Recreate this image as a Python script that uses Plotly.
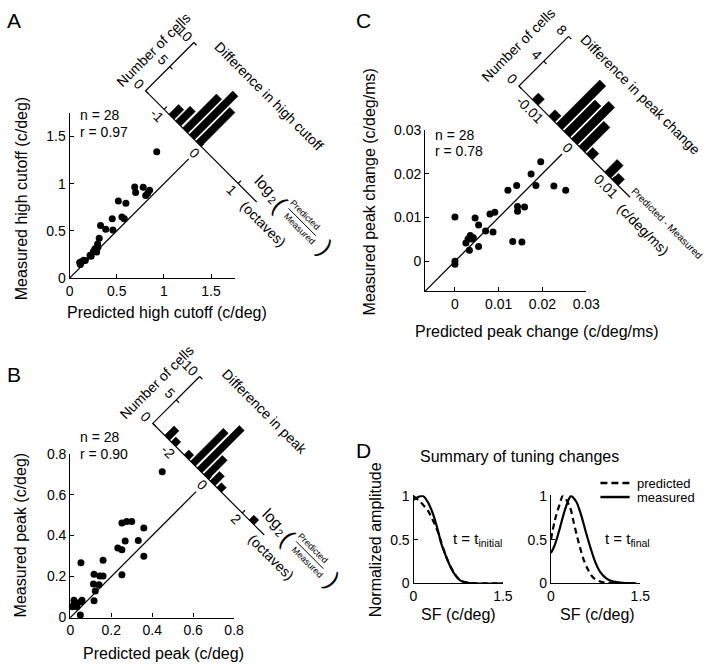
import math
import plotly.graph_objects as go

W, H = 720, 670
FONT = "Liberation Sans, Arial, Helvetica, sans-serif"
R2 = math.sqrt(2.0)

# ---------------- data ----------------
# Panel A : high cutoff (c/deg)
a_predicted = [0.924, 0.69, 0.70, 0.78, 0.848, 0.807, 0.828, 0.517, 0.597, 0.452,
               0.555, 0.58, 0.328, 0.383, 0.459, 0.314, 0.297, 0.269, 0.30, 0.252,
               0.217, 0.149, 0.124, 0.114, 0.166, 0.287, 0.107, 0.228]
a_measured = [1.338, 0.966, 0.907, 0.962, 0.931, 0.876, 0.90, 0.817, 0.793, 0.628,
              0.648, 0.628, 0.558, 0.517, 0.51, 0.421, 0.362, 0.31, 0.328, 0.283,
              0.242, 0.19, 0.173, 0.145, 0.187, 0.276, 0.166, 0.232]
a_hist_bins = [-0.80, -0.62, -0.43, -0.25, -0.07]
a_hist_counts = [2, 3, 7, 9, 7]
a_ticks = [0, 0.5, 1, 1.5]
a_ticklabels = ["0", "0.5", "1", "1.5"]
a_hist_ticks = [-1, 0, 1]
a_hist_ticklabels = ["-1", "0", "1"]
a_count_ticks = [0, 5, 10]

# Panel B : peak (c/deg)
b_predicted = [0.449, 0.252, 0.275, 0.30, 0.359, 0.232, 0.252, 0.268, 0.332, 0.359,
               0.252, 0.16, 0.052, 0.116, 0.144, 0.16, 0.113, 0.14, 0.122, 0.116,
               0.018, 0.018, 0.033, 0.052, 0.049, 0.025, 0.01, 0.057]
b_measured = [0.712, 0.461, 0.469, 0.469, 0.437, 0.339, 0.331, 0.374, 0.376, 0.299,
              0.209, 0.28, 0.268, 0.212, 0.203, 0.203, 0.164, 0.16, 0.13, 0.082,
              0.085, 0.066, 0.053, 0.077, 0.013, 0.072, 0.053, 0.085]
b_hist_bins = [-2.45, -2.07, -1.30, -0.92, -0.53, -0.15, 0.24, 0.63, 2.55]
b_hist_counts = [2, 1, 1, 7, 9, 4, 2, 1, 1]
b_ticks = [0, 0.2, 0.4, 0.6, 0.8]
b_ticklabels = ["0", "0.2", "0.4", "0.6", "0.8"]
b_hist_ticks = [-2, 0, 2]
b_hist_ticklabels = ["-2", "0", "2"]
b_count_ticks = [0, 5, 10]

# Panel C : peak change (c/deg/ms)
c_predicted = [0.0196, 0.0174, 0.0185, 0.0141, 0.0121, 0.0226, 0.0253, 0.0143, 0.0159, 0.0143,
               0.0091, 0.0080, 0.0, 0.0046, 0.0054, 0.0070, 0.0087, 0.0035, 0.0030, 0.0039,
               0.0042, 0.0025, 0.0033, 0.0054, 0.0132, 0.0153, 0.0, 0.0]
c_measured = [0.0227, 0.0199, 0.0173, 0.0173, 0.0162, 0.0172, 0.0162, 0.0125, 0.0124, 0.0114,
              0.0112, 0.0108, 0.0101, 0.0099, 0.0083, 0.0069, 0.0067, 0.0059, 0.0051, 0.0051,
              0.0054, 0.0042, 0.0025, 0.0034, 0.0045, 0.0044, 0.0, -0.0007]
c_hist_bins = [-0.0104, -0.0060, -0.0040, -0.0020, 0.0, 0.0020, 0.0040, 0.0088, 0.0108]
c_hist_counts = [1, 1, 7, 5, 6, 4, 1, 2, 1]
c_ticks = [0, 0.01, 0.02, 0.03]
c_ticklabels = ["0", "0.01", "0.02", "0.03"]
c_hist_ticks = [-0.01, 0, 0.01]
c_hist_ticklabels = ["-0.01", "0", "0.01"]
c_count_ticks = [0, 4, 8]

# Panel D : summary tuning curves
d_init_meas_sf = [0, 0.08, 0.16, 0.245, 0.327, 0.409, 0.464, 0.545, 0.627, 0.71, 0.79, 0.90, 1.5]
d_init_meas_amp = [0.955, 0.99, 1.0, 0.925, 0.795, 0.608, 0.459, 0.31, 0.179, 0.085, 0.03, 0.004, 0]
d_init_pred_sf = [0, 0.08, 0.16, 0.245, 0.327, 0.409, 0.49, 0.57, 0.655, 0.736, 0.818, 0.93, 1.5]
d_init_pred_amp = [1.0, 0.955, 0.9, 0.83, 0.72, 0.59, 0.42, 0.27, 0.15, 0.066, 0.022, 0.005, 0]
d_final_meas_sf = [0, 0.065, 0.147, 0.229, 0.31, 0.338, 0.42, 0.5, 0.584, 0.666, 0.748, 0.83,
                   0.94, 1.05, 1.21, 1.43]
d_final_meas_amp = [0.347, 0.44, 0.627, 0.83, 0.98, 1.0, 0.94, 0.795, 0.59, 0.40, 0.235, 0.124,
                    0.05, 0.018, 0.004, 0]
d_final_pred_sf = [0, 0.065, 0.147, 0.2, 0.31, 0.393, 0.475, 0.557, 0.639, 0.72, 0.83, 0.966, 1.43]
d_final_pred_amp = [0.5, 0.72, 0.907, 1.0, 0.888, 0.664, 0.44, 0.255, 0.134, 0.058, 0.018, 0.004, 0]
d_xticks = [0, 1.5]
d_xticklabels = ["0", "1.5"]
d_yticks = [0, 0.5, 1]
d_yticklabels = ["0", "0.5", "1"]

# ---------------- layout helpers ----------------
layout = dict(width=W, height=H, margin=dict(l=0, r=0, t=0, b=0),
              paper_bgcolor="white", plot_bgcolor="rgba(0,0,0,0)",
              showlegend=False, font=dict(family=FONT, size=14, color="black"))
annotations = []
shapes = []
fig = go.Figure()


def names(k):
    s = "" if k == 1 else str(k)
    return "xaxis" + s, "yaxis" + s, "x" + s, "y" + s


def ppx(x, y):
    return x / W, 1 - y / H


def text_px(text, x, y, size=14, angle=0, xanchor="center"):
    px_, py_ = ppx(x, y)
    annotations.append(dict(text=text, x=px_, y=py_, xref="paper", yref="paper",
                            showarrow=False, textangle=angle, xanchor=xanchor,
                            yanchor="middle", font=dict(size=size, family=FONT, color="black")))


def text_ref(text, x, y, xref, yref, size=14, angle=0):
    annotations.append(dict(text=text, x=x, y=y, xref=xref, yref=yref, showarrow=False,
                            textangle=angle, xanchor="center", yanchor="middle",
                            font=dict(size=size, family=FONT, color="black")))


AX = dict(showline=True, linecolor="black", linewidth=1.2, ticks="inside", ticklen=4,
          tickwidth=1.1, tickcolor="black", showgrid=False, zeroline=False,
          fixedrange=True, tickfont=dict(size=14, family=FONT, color="black"))


def data_axes(k, x0, y0, s, xr, yr, xt, xtl, yt, ytl):
    xa, ya, xref, yref = names(k)
    layout[xa] = dict(AX, domain=[(x0 + xr[0] * s) / W, (x0 + xr[1] * s) / W],
                      range=list(xr), anchor=yref, tickvals=xt, ticktext=xtl)
    layout[ya] = dict(AX, domain=[1 - (y0 - yr[0] * s) / H, 1 - (y0 - yr[1] * s) / H],
                      range=list(yr), anchor=xref, tickvals=yt, ticktext=ytl)
    return xref, yref


def overlay_axes(k, x0, y0, s, box):
    xa, ya, xref, yref = names(k)
    bx0, by0, bx1, by1 = box
    layout[xa] = dict(domain=[bx0 / W, bx1 / W], range=[(bx0 - x0) / s, (bx1 - x0) / s],
                      anchor=yref, visible=False, fixedrange=True)
    layout[ya] = dict(domain=[1 - by1 / H, 1 - by0 / H], range=[(y0 - by1) / s, (y0 - by0) / s],
                      anchor=xref, visible=False, fixedrange=True)
    return xref, yref


def frame(g, h, n, da=0.0, dp=0.0):
    """rotated histogram frame -> scatter data coordinates"""
    a = h * g["hpx"] + da
    b = n * g["npx"] + dp
    return (g["c"] + (a + b) / (R2 * g["s"]), g["c"] + (-a + b) / (R2 * g["s"]))


def scatter_panel(g, pred, meas, ticks, ticklabels, bins, counts, hticks, hticklabels, cticks):
    xr_, yr_ = data_axes(g["k"], g["x0"], g["y0"], g["s"], g["xr"], g["yr"],
                         ticks, ticklabels, ticks, ticklabels)
    fig.add_trace(go.Scatter(x=pred, y=meas, mode="markers", xaxis=xr_, yaxis=yr_,
                             marker=dict(size=7, color="black"), cliponaxis=False,
                             hoverinfo="skip"))
    xo, yo = overlay_axes(g["k"] + 1, g["x0"], g["y0"], g["s"], g["box"])
    # identity line, stopping short of the histogram axis
    lo = max(g["xr"][0], g["yr"][0])
    hi = g["c"] - 18.0 / (R2 * g["s"])
    fig.add_trace(go.Scatter(x=[lo, hi], y=[lo, hi], mode="lines", xaxis=xo, yaxis=yo,
                             line=dict(color="black", width=1.3), hoverinfo="skip"))
    h0, h1 = g["hlim"]
    xs, ys = [], []
    for p in [frame(g, h0, g["nmax"]), frame(g, h0, 0), frame(g, h1, 0)]:
        xs.append(p[0]); ys.append(p[1])
    xs.append(None); ys.append(None)
    for t in hticks:
        for p in [frame(g, t, 0), frame(g, t, 0, dp=4)]:
            xs.append(p[0]); ys.append(p[1])
        xs.append(None); ys.append(None)
    for k in cticks:
        for p in [frame(g, h0, k), frame(g, h0, k, da=4)]:
            xs.append(p[0]); ys.append(p[1])
        xs.append(None); ys.append(None)
    fig.add_trace(go.Scatter(x=xs, y=ys, mode="lines", xaxis=xo, yaxis=yo,
                             line=dict(color="black", width=1.2), hoverinfo="skip"))
    # bars
    bx, by = [], []
    w = g["barw"] / 2
    for hc, cnt in zip(bins, counts):
        for (h, n) in [(hc - w, 0), (hc + w, 0), (hc + w, cnt), (hc - w, cnt), (hc - w, 0)]:
            p = frame(g, h, n)
            bx.append(p[0]); by.append(p[1])
        bx.append(None); by.append(None)
    fig.add_trace(go.Scatter(x=bx, y=by, mode="lines", fill="toself", fillcolor="black",
                             xaxis=xo, yaxis=yo, line=dict(color="black", width=0.6),
                             hoverinfo="skip"))
    # tick labels
    for t, lab in zip(hticks, hticklabels):
        p = frame(g, t, 0, dp=-9)
        text_ref(lab, p[0], p[1], xo, yo, size=14, angle=45)
    for k in cticks:
        lab = str(k)
        p = frame(g, h0, k, da=-(6 + 3.5 * len(lab)))
        text_ref(lab, p[0], p[1], xo, yo, size=14, angle=45)
    p = frame(g, h0, 0, da=g["ct"][0], dp=g["ct"][1])
    text_ref("Number of cells", p[0], p[1], xo, yo, size=14, angle=-45)
    p = frame(g, h0, 0, da=g["ht"][0], dp=g["ht"][1])
    text_ref(g["htitle"], p[0], p[1], xo, yo, size=14, angle=45)
    return xo, yo


GA = dict(k=1, x0=67.3, y0=276.7, s=96.7, xr=(0, 1.75), yr=(0, 1.75), box=(0, 0, 360, 345),
          c=1.395, hpx=53.7, npx=7.0, hlim=(-1.5, 1.5), nmax=10, barw=0.14,
          ct=(-24, 35), ht=(93, 86), htitle="Difference in high cutoff")
GB = dict(k=3, x0=68.0, y0=624.5, s=210.0, xr=(0, 0.8), yr=(0, 0.8), box=(0, 345, 360, 670),
          c=0.675, hpx=24.5, npx=6.8, hlim=(-3.3, 3.3), nmax=10, barw=0.29,
          ct=(-27, 33), ht=(73, 90), htitle="Difference in peak")
GC = dict(k=5, x0=462.5, y0=259.5, s=4490.0, xr=(-0.0068, 0.03), yr=(-0.0068, 0.03),
          box=(360, 0, 720, 345), c=0.0273, hpx=5480.0, npx=9.0, hlim=(-0.0147, 0.0147),
          nmax=8, barw=0.0016, ct=(-30, 29), ht=(95, 82), htitle="Difference in peak change")

oa = scatter_panel(GA, a_predicted, a_measured, a_ticks, a_ticklabels, a_hist_bins, a_hist_counts,
                   a_hist_ticks, a_hist_ticklabels, a_count_ticks)
ob = scatter_panel(GB, b_predicted, b_measured, b_ticks, b_ticklabels, b_hist_bins, b_hist_counts,
                   b_hist_ticks, b_hist_ticklabels, b_count_ticks)
oc = scatter_panel(GC, c_predicted, c_measured, c_ticks, c_ticklabels, c_hist_bins, c_hist_counts,
                   c_hist_ticks, c_hist_ticklabels, c_count_ticks)


def end_px(g):
    # pixel position of the end of the histogram axis
    x, y = frame(g, g["hlim"][1], 0)
    return g["x0"] + x * g["s"], g["y0"] - y * g["s"]


def rot(ex, ey, along, perp):
    # pixel offset in the rotated (45 deg) label frame
    return ex + 0.7071 * (along + perp), ey + 0.7071 * (along - perp)


def log_label(g):
    ex, ey = end_px(g)
    text_px("log", *rot(ex, ey, -6, 17.5), size=16, angle=45)
    text_px("2", *rot(ex, ey, 9.5, 12.5), size=11, angle=45)
    text_px("(", *rot(ex, ey, 18.5, 15.5), size=24, angle=45)
    text_px("Predicted", *rot(ex, ey, 44.5, 25.8), size=9, angle=45)
    text_px("Measured", *rot(ex, ey, 50.9, 11.1), size=9, angle=45)
    text_px(")", *rot(ex, ey, 83, 17), size=24, angle=45)
    text_px("(octaves)", *rot(ex, ey, 21, -11.5), size=14, angle=45)
    mx, my = rot(ex, ey, 47.5, 18.5)
    x0p, y0p = ppx(mx - 14, my - 14)
    x1p, y1p = ppx(mx + 14, my + 14)
    shapes.append(dict(type="line", xref="paper", yref="paper", x0=x0p, y0=y0p, x1=x1p, y1=y1p,
                       line=dict(color="black", width=1)))


log_label(GA)
log_label(GB)
ex, ey = end_px(GC)
text_px("Predicted - Measured", ex + 38, ey + 27, size=10, angle=45)
text_px("(c/deg/ms)", ex + 13, ey + 33, size=14, angle=45)

# panel letters, stats, axis titles
text_px("A", 10, 13, size=21)
text_px("B", 10, 375, size=21)
text_px("C", 368.5, 13, size=21)
text_px("D", 368.5, 453, size=21)

text_px("n = 28", 76, 110, xanchor="left")
text_px("r = 0.97", 76, 126.7, xanchor="left")
text_px("n = 28", 76, 440, xanchor="left")
text_px("r = 0.90", 76, 456.7, xanchor="left")
text_px("n = 28", 440, 130.5, xanchor="left")
text_px("r = 0.78", 440, 147, xanchor="left")

text_px("Measured high cutoff (c/deg)", 17.3, 195, size=16, angle=-90)
text_px("Predicted high cutoff (c/deg)", 166.7, 311.7, size=16)
text_px("Measured peak (c/deg)", 16.7, 540, size=16, angle=-90)
text_px("Predicted peak (c/deg)", 163.3, 661.7, size=16)
text_px("Measured peak change (c/deg/ms)", 375, 188.3, size=16, angle=-90)
text_px("Predicted peak change (c/deg/ms)", 546.7, 331.7, size=16)

# ---------------- panel D ----------------
DS = 89.3  # px per amplitude unit
DX = 61.1  # px per c/deg
d_y0 = 589.3
d_yr = (0, 1.01)
xl, yl = names(7)[2:]
xr8, yr8 = names(8)[2:]
for k, xpx in [(7, 420.0), (8, 561.0)]:
    xa, ya, xref, yref = names(k)
    layout[xa] = dict(AX, domain=[xpx / W, (xpx + 1.5 * DX) / W], range=[0, 1.5], anchor=yref,
                      tickvals=d_xticks, ticktext=d_xticklabels)
    layout[ya] = dict(AX, domain=[1 - d_y0 / H, 1 - (d_y0 - d_yr[1] * DS) / H], range=list(d_yr),
                      anchor=xref, tickvals=d_yticks, ticktext=d_yticklabels)

DASH = "6px,4px"
fig.add_trace(go.Scatter(x=d_init_pred_sf, y=d_init_pred_amp, mode="lines", xaxis=xl, yaxis=yl,
                         line=dict(color="black", width=2.2, dash=DASH, shape="spline"),
                         name="predicted", hoverinfo="skip"))
fig.add_trace(go.Scatter(x=d_init_meas_sf, y=d_init_meas_amp, mode="lines", xaxis=xl, yaxis=yl,
                         line=dict(color="black", width=2.2, shape="spline"),
                         name="measured", hoverinfo="skip"))
fig.add_trace(go.Scatter(x=d_final_pred_sf, y=d_final_pred_amp, mode="lines", xaxis=xr8, yaxis=yr8,
                         line=dict(color="black", width=2.2, dash=DASH, shape="spline"),
                         name="predicted", hoverinfo="skip"))
fig.add_trace(go.Scatter(x=d_final_meas_sf, y=d_final_meas_amp, mode="lines", xaxis=xr8, yaxis=yr8,
                         line=dict(color="black", width=2.2, shape="spline"),
                         name="measured", hoverinfo="skip"))

text_px("Summary of tuning changes", 528.3, 459.3, size=16)
for yy, lab, dash in [(486.7, "predicted", "7px,4px"), (501.0, "measured", "solid")]:
    x0p, y0p = ppx(611.7, yy)
    x1p, _ = ppx(641.7, yy)
    shapes.append(dict(type="line", xref="paper", yref="paper", x0=x0p, y0=y0p, x1=x1p, y1=y0p,
                       line=dict(color="black", width=2.5, dash=dash)))
    text_px(lab, 647.3, yy, size=13, xanchor="left")
text_px("t = t<sub>initial</sub>", 486, 544, size=15)
text_px("t = t<sub>final</sub>", 639.3, 545, size=15)
text_px("Normalized amplitude", 381.7, 545, size=16, angle=-90)
text_px("SF (c/deg)", 466, 621.7, size=16)
text_px("SF (c/deg)", 608.3, 621.7, size=16)

layout["annotations"] = annotations
layout["shapes"] = shapes
fig.update_layout(**layout)
fig.write_html("out.html", config={"displayModeBar": False},
               post_script="document.body.style.margin='0';")
